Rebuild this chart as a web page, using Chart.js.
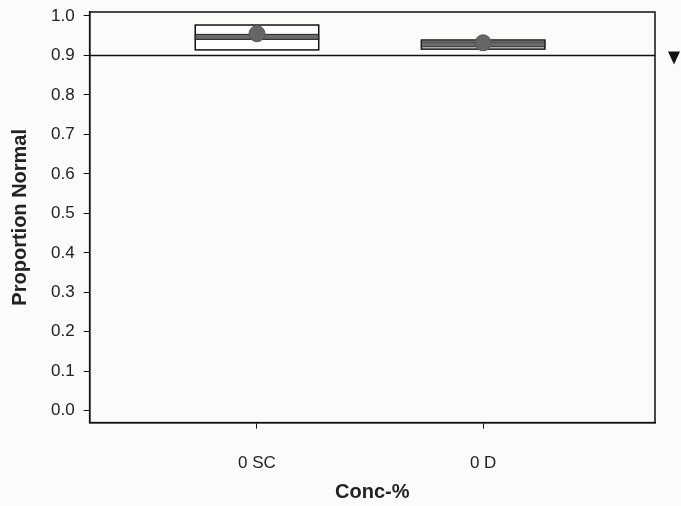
<!DOCTYPE html>
<html>
<head>
<meta charset="utf-8">
<script src="https://cdn.jsdelivr.net/npm/chart.js@4"></script>
<style>
  html, body { margin: 0; padding: 0; background: #fbfbfa; }
  #wrap { width: 681px; height: 506px; }
</style>
</head>
<body>
<div id="wrap"><canvas id="chart"></canvas></div>
<script>
// 데이터
const groups = ['0 SC', '0 D'];
const groupPos = [1, 2];
const q1Values = [0.914, 0.916];
const q3Values = [0.977, 0.939];
const medianValues = [0.947, 0.928];
const meanValues = [0.955, 0.932];
const refValue = 0.9;
const yTicks = [0.0, 0.1, 0.2, 0.3, 0.4, 0.5, 0.6, 0.7, 0.8, 0.9, 1.0];

// 상자 그리기 플러그인
const boxPlugin = {
    id: 'boxes',
    beforeDatasetsDraw(chart) {
        const { ctx, chartArea, scales: { x, y } } = chart;
        ctx.save();

        // 기준선
        const ry = Math.round(y.getPixelForValue(refValue)) + 0.5;
        ctx.strokeStyle = '#111';
        ctx.lineWidth = 1.5;
        ctx.beginPath();
        ctx.moveTo(chartArea.left, ry);
        ctx.lineTo(chartArea.right, ry);
        ctx.stroke();

        groups.forEach((g, i) => {
            const left = x.getPixelForValue(groupPos[i] - 0.273);
            const right = x.getPixelForValue(groupPos[i] + 0.273);
            const top = y.getPixelForValue(q3Values[i]);
            const bottom = y.getPixelForValue(q1Values[i]);
            ctx.fillStyle = '#fff';
            ctx.fillRect(left, top, right - left, bottom - top);
            ctx.strokeStyle = '#111';
            ctx.lineWidth = 1.5;
            ctx.strokeRect(left, top, right - left, bottom - top);

            // 중앙값
            const my = y.getPixelForValue(medianValues[i]);
            ctx.fillStyle = '#6a6a6a';
            ctx.fillRect(left, my - 2.5, right - left, 5);
            ctx.lineWidth = 1;
            ctx.strokeStyle = '#222';
            ctx.strokeRect(left, my - 2.5, right - left, 5);
        });
        ctx.restore();
    },
    afterDraw(chart) {
        const { ctx, chartArea, scales: { y } } = chart;
        ctx.save();
        // 테두리
        ctx.strokeStyle = '#111';
        ctx.lineWidth = 1.5;
        ctx.strokeRect(chartArea.left, chartArea.top, chartArea.right - chartArea.left, chartArea.bottom - chartArea.top);

        // 오른쪽 삼각형 표시
        const tx = chartArea.right + 19;
        const ty = y.getPixelForValue(refValue) + 2;
        ctx.fillStyle = '#111';
        ctx.beginPath();
        ctx.moveTo(tx - 6, ty - 6);
        ctx.lineTo(tx + 6, ty - 6);
        ctx.lineTo(tx, ty + 7);
        ctx.closePath();
        ctx.fill();
        ctx.restore();
    }
};

new Chart(document.getElementById('chart').getContext('2d'), {
    type: 'scatter',
    data: {
        datasets: [{
            label: 'Mean',
            data: groupPos.map((p, i) => ({ x: p, y: meanValues[i] })),
            backgroundColor: '#666',
            borderColor: '#555',
            borderWidth: 1,
            pointRadius: 8,
            pointHoverRadius: 8
        }]
    },
    options: {
        responsive: true,
        maintainAspectRatio: false,
        animation: false,
        layout: {
            padding: { top: 12, right: 26, bottom: 2, left: 8 }
        },
        plugins: {
            legend: { display: false },
            tooltip: { enabled: false }
        },
        scales: {
            x: {
                type: 'linear',
                min: 0.26,
                max: 2.76,
                afterBuildTicks: axis => {
                    axis.ticks = groupPos.map(v => ({ value: v }));
                },
                ticks: {
                    color: '#222',
                    font: { family: 'Liberation Sans, Arial', size: 17 },
                    padding: 25,
                    callback: v => groups[groupPos.indexOf(v)]
                },
                grid: { drawOnChartArea: false, tickLength: 6, color: '#111' },
                border: { color: '#111', width: 1.5 },
                title: {
                    display: true,
                    text: 'Conc-%',
                    color: '#222',
                    font: { family: 'Liberation Sans, Arial', size: 20, weight: 'bold' },
                    padding: { top: -19, bottom: 0 }
                }
            },
            y: {
                min: -0.03,
                max: 1.01,
                afterBuildTicks: axis => {
                    axis.ticks = yTicks.map(v => ({ value: v }));
                },
                afterFit: axis => {
                    axis.paddingTop = 0;
                    axis.paddingBottom = 0;
                },
                ticks: {
                    color: '#222',
                    font: { family: 'Liberation Sans, Arial', size: 17 },
                    padding: 9,
                    callback: v => v.toFixed(1)
                },
                grid: { drawOnChartArea: false, tickLength: 6, color: '#111' },
                border: { color: '#111', width: 1.5 },
                title: {
                    display: true,
                    text: 'Proportion Normal',
                    color: '#222',
                    font: { family: 'Liberation Sans, Arial', size: 20, weight: 'bold' },
                    padding: { top: 0, bottom: 10 }
                }
            }
        }
    },
    plugins: [boxPlugin]
});
</script>
</body>
</html>
